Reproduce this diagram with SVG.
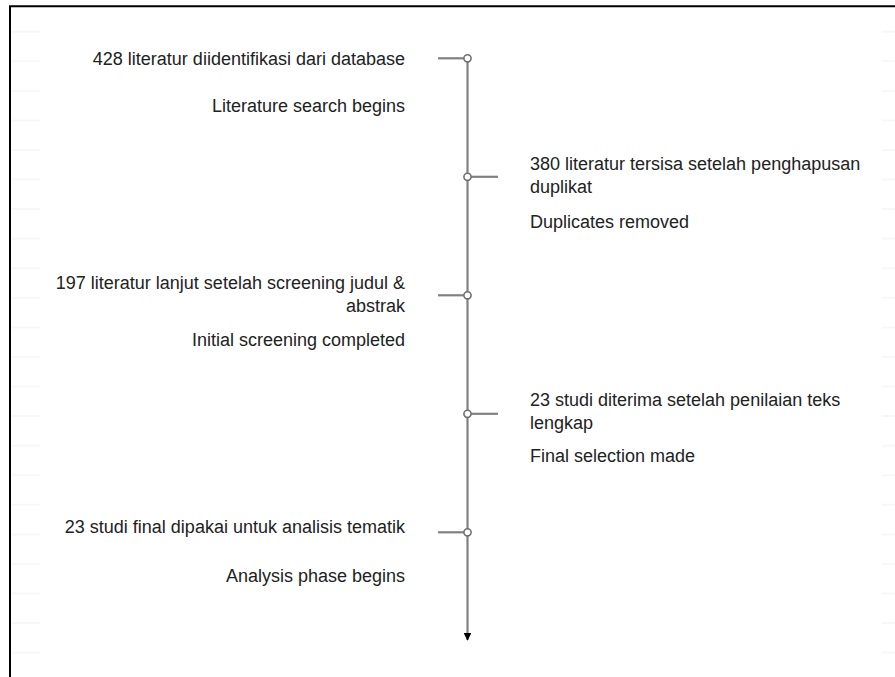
<svg xmlns="http://www.w3.org/2000/svg" width="895" height="677" viewBox="0 0 895 677">
<style>
.t{font-family:"Liberation Sans",Arial,sans-serif;font-size:18px;fill:#222}
.l{text-anchor:end}
.axis{stroke:#808080;stroke-width:2.2;fill:none}
.dot{stroke:#707070;stroke-width:1.6;fill:#fff}
.grid{stroke:#f7f7f7;stroke-width:2}
</style>
<defs>
<marker id="arr" viewBox="0 0 10 10" refX="9" refY="5" markerWidth="3.6" markerHeight="3.6" orient="auto" markerUnits="strokeWidth">
<path d="M0,0 L10,5 L0,10 z" fill="#000"/>
</marker>
</defs>
<rect width="895" height="677" fill="#fff"/>
<g id="grid">
<path class="grid" d="M12 31.7H40M12 61.3H40M12 90.9H40M12 120.4H40M12 150H40M12 179.6H40M12 209.1H40M12 238.7H40M12 268.3H40M12 297.8H40M12 327.4H40M12 357H40M12 386.5H40M12 416.1H40M12 445.7H40M12 475.2H40M12 504.8H40M12 534.4H40M12 563.9H40M12 593.5H40M12 623.1H40M12 652.6H40"/>
<path class="grid" d="M882 31.7H895M882 61.3H895M882 90.9H895M882 120.4H895M882 150H895M882 179.6H895M882 209.1H895M882 238.7H895M882 268.3H895M882 297.8H895M882 327.4H895M882 357H895M882 386.5H895M882 416.1H895M882 445.7H895M882 475.2H895M882 504.8H895M882 534.4H895M882 563.9H895M882 593.5H895M882 623.1H895M882 652.6H895"/>
</g>
<g id="frame">
<path d="M10 677V6.3H895" stroke="#000" stroke-width="2" fill="none"/>
</g>
<g id="connectors">
<line class="axis" x1="467.5" y1="58" x2="467.5" y2="640" marker-end="url(#arr)"/>
<line class="axis" x1="438" y1="58.3" x2="464" y2="58.3"/>
<line class="axis" x1="471" y1="176.8" x2="498" y2="176.8"/>
<line class="axis" x1="438" y1="295.3" x2="464" y2="295.3"/>
<line class="axis" x1="471" y1="413.8" x2="498" y2="413.8"/>
<line class="axis" x1="438" y1="532.3" x2="464" y2="532.3"/>
</g>
<g id="event1">
<circle class="dot" cx="467.5" cy="58.3" r="3.6"/>
<text class="t l" x="405" y="65">428 literatur diidentifikasi dari database</text>
<text class="t l" x="405" y="111.7">Literature search begins</text>
</g>
<g id="event2">
<circle class="dot" cx="467.5" cy="176.8" r="3.6"/>
<text class="t" x="530" y="170">380 literatur tersisa setelah penghapusan</text>
<text class="t" x="530" y="193">duplikat</text>
<text class="t" x="530" y="227.5">Duplicates removed</text>
</g>
<g id="event3">
<circle class="dot" cx="467.5" cy="295.3" r="3.6"/>
<text class="t l" x="405" y="289">197 literatur lanjut setelah screening judul &amp;</text>
<text class="t l" x="405" y="312">abstrak</text>
<text class="t l" x="405" y="345.5">Initial screening completed</text>
</g>
<g id="event4">
<circle class="dot" cx="467.5" cy="413.8" r="3.6"/>
<text class="t" x="530" y="406">23 studi diterima setelah penilaian teks</text>
<text class="t" x="530" y="429">lengkap</text>
<text class="t" x="530" y="462.3">Final selection made</text>
</g>
<g id="event5">
<circle class="dot" cx="467.5" cy="532.3" r="3.6"/>
<text class="t l" x="405" y="532.5">23 studi final dipakai untuk analisis tematik</text>
<text class="t l" x="405" y="582.3">Analysis phase begins</text>
</g>
</svg>
